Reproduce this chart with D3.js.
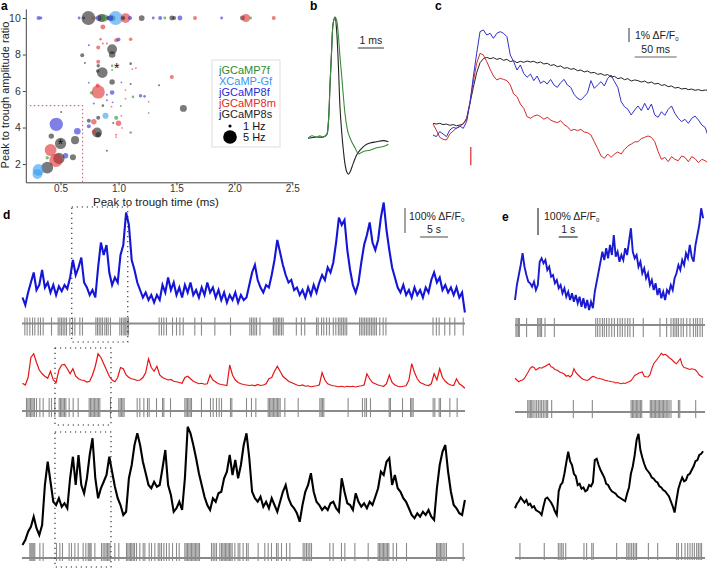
<!DOCTYPE html>
<html><head><meta charset="utf-8">
<script src="https://cdn.jsdelivr.net/npm/d3@7/dist/d3.min.js"></script>
<style>body{margin:0;background:#fff}svg{font-family:"Liberation Sans",Arial,sans-serif}</style>
</head><body>
<svg id="fig" width="707" height="569"></svg>
<script>
// ---------- Panel a data ----------
const groups = ["jGCaMP7f","XCaMP-Gf","jGCaMP8f","jGCaMP8m","jGCaMP8s"];
const groupColors = ["#2e8b2e","#3399ee","#2a2ad4","#e02a2a","#222222"];
const xTicksA = [0.5,1.0,1.5,2.0,2.5];
const yTicksA = [2,4,6,8,10];
const scatTime  = [0.31,0.33,0.66,0.70,0.74,0.78,0.80,0.83,0.855,0.88,0.91,0.95,0.975,0.93,1.06,1.04,1.10,1.20,1.30,1.36,1.40,1.46,1.48,1.53,1.66,1.89,2.07,2.10,2.14,2.34,
 0.865,0.744,0.845,0.865,0.90,0.825,0.98,1.0,1.105,0.945,0.945,0.687,0.71,0.825,0.825,0.86,0.82,0.945,0.945,1.105,1.12,0.945,0.744,1.025,1.105,1.46,1.35,0.825,0.82,0.767,0.945,0.9,0.9,0.95,1.06,1.06,1.125,1.19,1.225,1.26,1.26,0.787,0.865,0.94,1.02,0.888,0.825,0.98,1.025,0.744,0.787,1.0,0.955,1.03,0.744,0.815,0.787,0.825,0.98,0.98,1.105,0.9,0.505,0.463,0.42,0.645,0.625,0.5,0.414,0.543,0.486,0.46,0.607,0.385,0.385,0.31,0.30,1.56,1.15];
const scatRatio = [10,10,10,10,10,10,10,10,10,10,10,10,10,10,10,10,10,10,10,10,10,10,10,10,10,10,10,10,10,10,
 9.51,8.51,8.84,8.6,8.6,8.38,8.78,8.82,8.84,8.29,8.0,7.96,7.54,7.6,7.38,7.01,7.1,7.38,7.15,7.5,7.2,6.5,6.46,6.47,6.38,6.77,6.32,5.95,6.3,5.9,5.92,5.8,5.5,5.38,6.05,5.58,5.68,5.74,5.71,5.41,4.8,5.32,5.2,5.15,5.18,4.64,4.54,4.53,4.64,4.37,4.32,4.23,4.25,3.98,4.07,3.73,3.77,3.6,3.6,3.48,3.73,2.73,4.85,4.18,3.53,3.8,3.31,3.13,2.77,2.46,2.31,2.2,2.37,2.35,1.8,1.68,1.45,5.05,7.25];
const scatRate  = [1.4,1.0,1.0,1.0,4.8,1.0,1.0,2.0,2.8,2.4,1.4,2.0,4.8,2.0,3.4,1.4,1.4,2.0,1.0,1.4,1.0,1.7,1.4,1.7,1.4,1.0,1.7,2.8,1.0,1.4,
 1.7,0.7,0.9,0.7,0.7,1.4,1.4,1.4,1.2,3.4,2.3,1.4,0.7,1.4,1.2,3.7,1.2,0.9,0.7,0.9,0.6,1.9,0.6,0.6,0.7,1.4,0.7,4.6,1.4,1.2,1.6,0.7,0.7,0.6,0.6,0.6,0.9,1.2,0.9,0.6,0.6,0.7,0.9,0.6,0.7,2.1,1.4,1.4,0.6,1.4,1.9,1.9,0.7,0.6,1.4,3.4,1.4,1.9,0.7,0.6,0.9,0.7,0.7,4.6,1.9,2.3,2.8,3.9,4.1,1.9,3.9,4.6,2.1,1.2,4.1,4.1,3.4,2.4,0.6];
const scatGroup = [2,2,2,4,4,3,0,2,4,0,4,0,1,2,3,4,2,4,2,2,0,4,4,2,3,2,4,3,0,3,
 3,2,3,3,3,3,3,2,3,4,4,4,4,3,4,4,4,0,0,4,3,4,2,2,4,3,4,3,3,0,2,2,2,2,3,3,0,2,2,3,0,2,4,3,0,1,4,0,3,4,3,3,4,3,2,4,3,4,3,3,0,4,4,2,4,2,4,4,3,2,4,3,4,0,4,1,1,4,3];
const starTime = [0.5, 0.985];
const starRatio = [3.2, 7.35];
const cutTime = 0.69, cutRatio = 5.2;
const legendRates = [1,5];

// ---------- Panel b data (ms, normalized) ----------
const bGreenT = [0,0.15,0.33,0.45,0.59,0.72,0.78,0.85,0.91,0.97,1.04,1.1,1.17,1.23,1.3,1.36,1.42,1.49,1.55,1.68,1.81,1.94,2.13,2.38,2.64,2.9,3.09];
const bGreenV = [-0.01,0.01,0.0,0.01,0.0,0.02,0.11,0.45,0.73,0.95,1.0,0.975,0.84,0.67,0.5,0.34,0.2,0.09,0.03,-0.04,-0.09,-0.14,-0.12,-0.11,-0.09,-0.08,-0.06];
const bBlackT = [0,0.33,0.59,0.72,0.78,0.85,0.91,0.97,1.04,1.1,1.17,1.23,1.3,1.36,1.42,1.49,1.55,1.62,1.74,1.87,2.0,2.19,2.38,2.64,2.9,3.09];
const bBlackV = [-0.01,0.0,0.0,0.02,0.11,0.45,0.73,0.95,1.0,0.89,0.59,0.25,0.03,-0.11,-0.22,-0.29,-0.31,-0.29,-0.22,-0.15,-0.11,-0.07,-0.05,-0.04,-0.03,-0.04];

// ---------- Panel c data (%dF/F0, 4 ms samples) ----------
const cStep = 4;
const cBlue = [-0.64,-0.76,-0.40,-0.57,-0.76,-0.29,-0.10,-0.17,0.0,-0.17,0.31,1.62,3.52,5.19,6.74,6.86,6.5,6.62,6.26,6.62,6.74,6.62,6.38,5.07,4.6,4.0,4.36,3.76,3.48,3.71,3.24,3.57,3.05,3.21,3.0,3.33,2.93,2.76,3.1,3.33,2.93,2.76,2.26,1.98,1.86,2.1,2.38,3.24,2.69,2.93,3.17,2.86,3.4,3.64,3.17,2.76,1.74,1.38,1.19,0.79,1.14,1.43,1.1,1.62,1.14,1.57,0.79,0.62,1.02,0.76,1.19,1.43,0.9,0.55,0.31,0.48,0.19,0.55,0.71,0.43,0.07,-0.1,-0.81];
const cRed = [0.14,-0.29,-0.81,-0.95,-1.0,-0.57,-0.36,-0.14,-0.05,0.19,0.43,1.74,3.17,4.48,5.19,5.07,4.6,4.05,3.57,3.29,3.4,3.33,3.24,2.93,2.29,2.1,1.57,1.26,0.67,0.55,0.71,0.79,0.67,0.48,0.62,0.43,0.31,0.24,0.38,0.1,-0.05,-0.33,-0.24,-0.33,-0.24,-0.43,-0.48,-0.64,-1.12,-1.6,-2.14,-2.31,-2.0,-2.24,-2.0,-1.86,-2.0,-1.67,-1.43,-1.29,-1.14,-1.12,-0.9,-0.81,-0.71,-0.81,-1.12,-1.83,-2.38,-2.24,-2.55,-2.19,-2.38,-2.48,-2.14,-2.24,-2.55,-2.19,-2.33,-2.62,-2.38,-2.48,-2.67];
const cBlack = [0.19,0.14,0.19,0.1,0.14,0.05,0.1,0.02,0.07,0.14,0.55,1.62,2.76,3.81,4.52,4.81,4.9,4.81,4.88,4.76,4.83,4.69,4.76,4.6,4.67,4.52,4.62,4.55,4.64,4.57,4.62,4.5,4.57,4.43,4.48,4.33,4.38,4.24,4.29,4.12,4.17,4.05,4.1,3.95,4.0,3.86,3.93,3.79,3.83,3.69,3.74,3.62,3.67,3.5,3.55,3.38,3.45,3.31,3.38,3.21,3.29,3.24,3.14,3.21,3.07,3.14,3.0,3.05,2.9,2.95,2.81,2.86,2.71,2.76,2.64,2.69,2.6,2.64,2.55,2.6,2.52,2.57,2.55];
const cStimTime = 45, cStimRange = [-1.5,-2.8];

// ---------- Panel d data (%dF/F0, 0.5 s samples; spike times in s) ----------
const dStep = 0.5;
const dBlue = [10,-20,30,70,110,40,60,120,50,70,30,60,20,55,35,60,45,90,160,100,130,170,70,50,20,40,10,130,230,180,220,110,60,90,70,180,220,350,300,160,120,70,40,10,30,0,20,-10,20,0,60,30,90,40,70,20,50,10,60,30,70,20,40,10,50,20,70,30,50,10,40,0,30,-10,20,0,30,-10,20,0,10,60,110,140,80,50,30,60,50,100,160,240,190,140,100,70,80,40,50,20,40,10,50,20,60,30,70,100,80,130,110,150,230,330,300,320,200,120,60,30,70,150,220,260,310,230,200,240,330,390,280,200,130,90,50,30,60,20,40,10,50,20,40,10,50,30,80,110,70,90,40,60,30,50,20,50,10,30,-50];
const dRed = [7,0,30,110,125,90,60,45,35,27,55,20,10,60,80,82,65,45,65,35,25,20,18,12,15,40,75,125,110,85,60,35,20,13,30,70,65,40,30,25,22,18,20,30,50,105,70,55,75,40,30,25,20,22,15,13,10,7,30,35,25,15,10,5,7,3,5,40,20,12,5,2,0,-2,80,40,20,10,5,2,0,-2,0,-3,2,-2,0,5,25,30,55,75,55,35,25,15,10,5,0,-3,0,-5,-3,-7,-5,-3,0,50,20,5,0,-3,-5,-7,-5,-8,-5,-7,-5,-8,-5,-3,0,45,25,10,5,0,-3,-5,5,40,10,0,-5,-7,-5,-3,20,85,50,25,10,5,0,-2,5,45,20,65,30,15,5,0,-2,25,5,-3,-13];
const dBlack = [40,60,93,113,153,107,80,120,280,373,293,213,200,227,193,207,187,307,393,280,400,280,247,307,400,467,307,227,267,293,320,393,333,273,227,200,160,173,307,360,440,487,440,373,327,280,267,293,273,280,347,420,280,240,173,187,213,180,307,513,487,440,387,327,280,233,200,180,227,213,247,253,307,333,400,320,380,307,360,440,487,387,253,227,213,233,193,213,187,227,200,173,213,253,280,227,200,187,167,133,200,253,280,327,253,213,200,180,193,180,207,213,187,173,307,253,207,200,180,247,213,193,207,187,213,200,233,267,333,320,373,387,280,320,267,253,227,213,187,160,147,167,153,173,160,180,153,140,267,360,413,440,333,253,200,187,167,160,220];
const dBlueSpikes = [0.42,0.83,1.31,1.79,2.2,2.8,3.21,3.69,5.18,6.37,6.67,6.96,7.26,7.56,7.86,8.45,8.93,9.35,10.24,10.71,13.1,13.39,13.69,13.99,14.29,14.7,15.0,15.3,15.71,17.38,17.68,17.98,18.27,18.45,18.69,18.93,24.4,24.82,25.24,25.71,26.79,27.5,28.1,28.7,30.77,31.96,34.35,37.14,40.6,40.9,41.2,41.5,41.8,42.4,44.8,45.1,45.4,45.7,45.95,46.25,46.55,48.9,49.8,50.4,52.5,52.8,53.4,53.8,54.3,54.8,55.5,55.95,56.4,56.7,57.0,57.3,57.6,57.9,60.2,60.5,60.8,61.1,61.4,61.7,62.0,62.3,62.6,62.9,63.2,63.8,64.4,64.9,73.3,73.9,74.4,75.4,76.3,77.2,78.7];
const dRedSpikes = [0.71,0.95,1.19,1.43,1.67,1.9,2.14,2.5,3.1,3.69,4.76,5.18,5.77,6.55,6.79,7.02,7.26,7.5,7.74,8.33,9.05,9.94,11.9,12.14,12.38,12.62,12.86,13.1,13.33,13.57,13.81,15.71,17.2,17.44,17.68,17.92,18.15,20.48,20.95,21.67,22.32,22.62,23.93,25.0,25.24,26.43,28.99,29.23,29.46,29.7,29.94,30.18,31.96,33.57,34.05,34.64,35.12,35.54,37.14,37.38,40.0,40.89,41.67,43.87,44.1,44.35,44.58,44.82,45.06,45.3,45.54,45.77,46.01,46.85,49.23,53.1,53.33,53.57,53.81,58.15,60.71,61.13,61.43,62.14,65.48,65.71,67.86,69.29,69.52,69.76,73.33,73.63,74.4,74.64,76.31,77.62];
const dBlackSpikes = [1.31,1.49,1.67,1.85,2.02,2.2,3.1,3.69,6.07,6.67,7.14,8.33,8.75,9.35,9.94,10.83,11.31,11.73,11.9,12.08,12.26,12.92,14.11,14.4,14.7,14.94,15.18,15.42,15.65,16.49,17.2,18.57,18.81,19.05,19.29,19.52,19.76,20.0,20.36,20.95,21.55,21.85,22.62,23.04,23.63,24.23,24.52,24.82,25.24,25.71,26.19,26.79,27.5,27.98,28.99,29.23,29.46,29.7,29.94,30.18,30.42,30.65,30.89,31.13,31.37,31.61,33.75,34.05,34.35,34.64,35.24,35.54,35.77,36.01,36.25,36.49,36.73,36.96,37.2,37.44,37.92,38.51,38.81,39.4,40.0,40.3,42.08,43.27,43.87,44.46,45.36,45.65,46.25,47.14,47.74,50.12,50.42,50.71,51.01,51.31,51.61,54.88,55.48,56.96,57.56,59.35,61.73,63.51,63.75,63.99,64.23,64.46,64.7,64.94,65.18,65.42,66.19,66.79,68.57,73.93,74.17,74.4,74.64,74.88,75.12,75.42,75.71,78.69];
const dWindowStart = [8.8, 5.8, 5.8];
const windowDur = 10;

// ---------- Panel e data (%dF/F0, 0.1 s samples) ----------
const eStep = 0.1;
const eBlue = [120,180,220,260,307,253,220,193,187,173,193,160,180,273,287,267,280,240,253,213,220,187,200,167,180,147,167,133,153,120,147,113,140,107,133,93,127,87,120,80,113,87,153,193,233,273,313,280,327,287,340,300,380,293,313,273,300,280,327,300,353,407,313,287,300,253,273,227,247,207,227,180,200,160,187,140,167,127,153,120,160,147,180,160,207,227,260,240,280,260,307,287,340,293,273,340,380,420,487,447];
const eRed = [47,40,33,38,40,47,60,73,87,93,90,80,85,90,87,92,95,100,105,93,90,82,80,75,70,68,63,55,58,52,60,85,70,62,55,47,42,40,38,42,50,55,52,48,47,45,43,40,38,36,35,33,32,28,30,27,25,28,26,30,33,37,47,58,62,67,70,72,55,53,52,60,85,105,115,125,135,147,140,143,138,130,125,118,110,105,115,125,100,90,88,85,82,85,83,80,72,60,55,50];
const eBlack = [207,225,235,250,240,230,240,220,225,210,215,200,195,190,180,215,245,250,240,230,215,195,180,275,300,310,345,390,433,395,380,345,335,300,305,285,290,275,280,300,295,310,400,405,380,360,345,330,305,300,285,275,270,265,255,250,245,240,235,265,290,345,375,420,480,505,440,410,385,365,355,345,330,325,315,310,295,290,280,275,265,255,235,215,190,240,285,310,330,315,320,340,345,360,375,395,400,420,425,435];
const eBlueSpikes = [0.05,0.11,0.18,0.23,0.61,1.19,1.26,1.33,1.4,1.58,2.07,4.25,4.35,4.47,4.6,4.7,4.82,4.95,5.09,5.23,5.4,5.53,5.65,5.79,5.93,6.05,6.23,6.75,7.63,7.98,8.21,8.33,8.42,8.51,8.6,8.74,8.86,9.04,9.21,9.39,9.51,9.61,9.74,9.86];
const eRedSpikes = [0.67,0.74,0.81,0.88,0.95,1.05,1.14,1.23,1.32,1.4,1.49,1.58,1.67,1.72,1.93,3.07,4.07,6.11,6.18,6.25,6.32,6.39,6.46,6.53,6.6,6.67,7.12,7.19,7.26,7.33,7.4,7.47,7.54,7.61,7.68,7.75,7.82,7.89,7.96,8.04,8.11,8.21,8.6,8.67,9.51];
const eBlackSpikes = [0.26,1.54,2.28,2.37,2.46,2.54,2.67,3.63,3.77,4.04,4.12,5.35,5.88,5.96,6.05,6.14,6.23,6.32,6.4,7.02,7.51,8.51,8.6,8.77,8.95,9.09,9.21,9.33,9.44,9.56,9.65,9.74,9.82];

// =================== drawing ===================
const svg = d3.select("#fig");
const txtCol = "#222";

function panelLabel(t, x, y){
  svg.append("text").attr("x",x).attr("y",y).attr("font-size",12).attr("font-weight","bold").attr("fill","#000").text(t);
}

// ----- Panel a -----
const xA = d3.scaleLinear().domain([0.2,2.5]).range([25.8,292.3]);
const yA = d3.scaleLinear().domain([1,10.5]).range([182.3,8.9]);
const rA = d3.scaleLinear().domain([0,5]).range([0,7.2]);
const gA = svg.append("g");
gA.append("g").attr("transform","translate(0,182.3)")
  .call(d3.axisBottom(xA).tickValues(xTicksA).tickFormat(d3.format(".1f")).tickSize(3).tickPadding(0).tickSizeOuter(0))
  .call(g=>{g.selectAll("text").attr("font-size",10).attr("fill","#333").attr("font-family","Liberation Sans, Arial");g.selectAll("line,path").attr("stroke","#444");});
gA.append("g").attr("transform","translate(25.8,0)")
  .call(d3.axisLeft(yA).tickValues(yTicksA).tickSize(3).tickPadding(2).tickSizeOuter(0))
  .call(g=>{g.selectAll("text").attr("font-size",10.5).attr("fill","#333").attr("font-family","Liberation Sans, Arial");g.selectAll("line,path").attr("stroke","#444");});
gA.append("path")
  .attr("d",`M${xA(0.2)},${yA(cutRatio)}H${xA(cutTime)}V${yA(1)}`)
  .attr("fill","none").attr("stroke","#d96b86").attr("stroke-width",1.2).attr("stroke-dasharray","1.5,2.5");
const pts = scatTime.map((t,i)=>({t, r:scatRatio[i], hz:scatRate[i], g:scatGroup[i]}));
gA.append("g").selectAll("circle").data(pts).join("circle")
  .attr("cx",d=>xA(d.t)).attr("cy",d=>yA(d.r)).attr("r",d=>rA(d.hz))
  .attr("fill",d=>groupColors[d.g]).attr("fill-opacity",0.6);
starTime.forEach((t,i)=>{
  gA.append("text").attr("x",xA(t)).attr("y",yA(starRatio[i])+7).attr("text-anchor","middle")
    .attr("font-size",14).attr("fill","#111").text("*");
});
gA.append("text").attr("transform","translate(9,95) rotate(-90)").attr("text-anchor","middle")
  .attr("font-size",11).attr("fill",txtCol).text("Peak to trough amplitude ratio");
gA.append("text").attr("x",156).attr("y",206).attr("text-anchor","middle")
  .attr("font-size",11.5).attr("fill",txtCol).text("Peak to trough time (ms)");
const lg = gA.append("g");
lg.append("rect").attr("x",212).attr("y",60).attr("width",68).attr("height",87).attr("fill","#fff").attr("stroke","#ddd");
groups.forEach((name,i)=>{
  lg.append("text").attr("x",219).attr("y",74+i*11).attr("font-size",11).attr("fill",groupColors[i]).text(name);
});
legendRates.forEach((hz,i)=>{
  lg.append("circle").attr("cx",230).attr("cy",126+i*11).attr("r",rA(hz)*(i===0?1.1:0.95)).attr("fill","#000");
  lg.append("text").attr("x",243).attr("y",130+i*11).attr("font-size",11).attr("fill","#111").text(hz+" Hz");
});
panelLabel("a",1,10);

// ----- Panel b -----
const xB = d3.scaleLinear().domain([0,1]).range([308,334]);
const yB = d3.scaleLinear().domain([0,1]).range([137,17]);
const lineB = d3.line().x(d=>xB(d[0])).y(d=>yB(d[1])).curve(d3.curveCatmullRom);
svg.append("path").datum(bBlackT.map((t,i)=>[t,bBlackV[i]])).attr("d",lineB)
  .attr("fill","none").attr("stroke","#222").attr("stroke-width",1.1);
svg.append("path").datum(bGreenT.map((t,i)=>[t,bGreenV[i]])).attr("d",lineB)
  .attr("fill","none").attr("stroke","#3a8a3a").attr("stroke-width",1.1);
svg.append("line").attr("x1",xB(1.92)).attr("x2",xB(2.92)).attr("y1",48).attr("y2",48).attr("stroke","#333").attr("stroke-width",1);
svg.append("text").attr("x",xB(2.42)).attr("y",44).attr("text-anchor","middle").attr("font-size",10.5).attr("fill",txtCol).text("1 ms");
panelLabel("b",310,10);

// ----- Panel c -----
const xC = d3.scaleLinear().domain([0,50]).range([433,475]);
const yC = d3.scaleLinear().domain([0,1]).range([126,112]);
const lineC = d3.line().x((v,i)=>xC(i*cStep)).y(v=>yC(v));
svg.append("defs").append("clipPath").attr("id","clipC").append("rect").attr("x",430).attr("y",0).attr("width",277).attr("height",190);
const gC = svg.append("g").attr("clip-path","url(#clipC)");
gC.append("path").datum(cBlack).attr("d",lineC).attr("fill","none").attr("stroke","#222").attr("stroke-width",1);
gC.append("path").datum(cRed).attr("d",lineC).attr("fill","none").attr("stroke","#d42a2a").attr("stroke-width",1);
gC.append("path").datum(cBlue).attr("d",lineC).attr("fill","none").attr("stroke","#3030c8").attr("stroke-width",1);
svg.append("line").attr("x1",xC(cStimTime)).attr("x2",xC(cStimTime)).attr("y1",yC(cStimRange[0])).attr("y2",yC(cStimRange[1])).attr("stroke","#d42a2a").attr("stroke-width",1.2);
svg.append("line").attr("x1",629).attr("x2",629).attr("y1",yC(7)).attr("y2",yC(6)).attr("stroke","#333");
svg.append("text").attr("x",635).attr("y",39).attr("font-size",10.5).attr("fill",txtCol)
  .call(t=>{t.append("tspan").text("1% ΔF/F");t.append("tspan").attr("font-size",6).attr("dy",2).text("0");});
svg.append("line").attr("x1",xC(240)).attr("x2",xC(290)).attr("y1",57).attr("y2",57).attr("stroke","#666").attr("stroke-width",1.2);
svg.append("text").attr("x",xC(265)).attr("y",53).attr("text-anchor","middle").attr("font-size",10.5).attr("fill",txtCol).text("50 ms");
panelLabel("c",435,10);

// ----- Panels d, e -----
const xD = d3.scaleLinear().domain([0,5]).range([22.5,50.5]);
const xE = d3.scaleLinear().domain([0,1]).range([515,534]);
function trace(arr, step, xs, yBase, color, w){
  const ys = d3.scaleLinear().domain([0,100]).range([yBase,yBase-25]);
  svg.append("path").datum(arr)
    .attr("d", d3.line().x((v,i)=>xs(i*step)).y(v=>ys(v)))
    .attr("fill","none").attr("stroke",color).attr("stroke-width",w).attr("stroke-linejoin","miter");
}
function raster(spikes, xs, x0, x1, base, up, down){
  const g = svg.append("g").attr("stroke","#8a8a8a");
  g.append("line").attr("x1",x0).attr("x2",x1).attr("y1",base).attr("y2",base).attr("stroke-width",1.8);
  g.selectAll("line.s").data(spikes).join("line").attr("class","s")
    .attr("x1",d=>xs(d)).attr("x2",d=>xs(d)).attr("y1",base-up).attr("y2",base+down).attr("stroke-width",1.1);
}
trace(dBlue, dStep, xD, 300, "#1515d8", 2.1);
trace(dRed, dStep, xD, 385, "#e61414", 1.2);
trace(dBlack, dStep, xD, 555, "#000", 2.1);
raster(dBlueSpikes, xD, 22, 465, 323.5, 6, 12);
raster(dRedSpikes, xD, 22, 465, 411, 13, 6);
raster(dBlackSpikes, xD, 22, 465, 558, 15, 3);

trace(eBlue, eStep, xE, 330, "#1a1ad0", 1.9);
trace(eRed, eStep, xE, 390, "#e61414", 1.1);
trace(eBlack, eStep, xE, 560, "#000", 2.0);
raster(eBlueSpikes, xE, 515, 705, 325, 7, 12);
raster(eRedSpikes, xE, 515, 705, 412, 12, 6);
raster(eBlackSpikes, xE, 515, 705, 558, 15, 2);

const boxY = [[207,342],[348,425],[432,567]];
dWindowStart.forEach((s,i)=>{
  svg.append("rect").attr("x",xD(s)).attr("y",boxY[i][0]).attr("width",xD(s+windowDur)-xD(s)).attr("height",boxY[i][1]-boxY[i][0])
    .attr("fill","none").attr("stroke","#222").attr("stroke-width",1.1).attr("stroke-dasharray","1.2,3.8");
});

svg.append("line").attr("x1",405).attr("x2",405).attr("y1",208).attr("y2",233).attr("stroke","#666").attr("stroke-width",1.2);
svg.append("text").attr("x",409).attr("y",220).attr("font-size",10.5).attr("fill",txtCol)
  .call(t=>{t.append("tspan").text("100% ΔF/F");t.append("tspan").attr("font-size",6).attr("dy",2).text("0");});
svg.append("line").attr("x1",xD(71)).attr("x2",xD(76)).attr("y1",237).attr("y2",237).attr("stroke","#666").attr("stroke-width",1.2);
svg.append("text").attr("x",xD(73.5)).attr("y",233).attr("text-anchor","middle").attr("font-size",10.5).attr("fill",txtCol).text("5 s");
panelLabel("d",3,219);

svg.append("line").attr("x1",538).attr("x2",538).attr("y1",208).attr("y2",235).attr("stroke","#333").attr("stroke-width",1.2);
svg.append("text").attr("x",544).attr("y",220).attr("font-size",10.5).attr("fill",txtCol)
  .call(t=>{t.append("tspan").text("100% ΔF/F");t.append("tspan").attr("font-size",6).attr("dy",2).text("0");});
svg.append("line").attr("x1",xE(2.3)).attr("x2",xE(3.3)).attr("y1",237).attr("y2",237).attr("stroke","#333").attr("stroke-width",1.2);
svg.append("text").attr("x",xE(2.8)).attr("y",233).attr("text-anchor","middle").attr("font-size",10.5).attr("fill",txtCol).text("1 s");
panelLabel("e",502,221);
</script>
</body></html>
